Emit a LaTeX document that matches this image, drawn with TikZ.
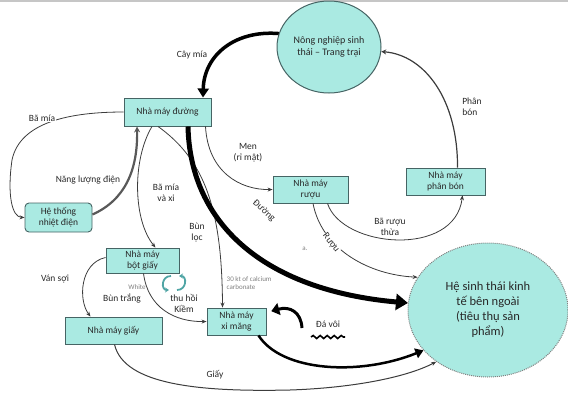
\documentclass[tikz,border=0pt]{standalone}
\usepackage{fontspec}
\setmainfont{Carlito}
\usetikzlibrary{shapes.geometric,arrows.meta,calc,decorations.pathmorphing}
\definecolor{boxfill}{RGB}{170,234,226}
\definecolor{boxline}{RGB}{70,100,100}
\definecolor{txt}{RGB}{40,40,40}
\definecolor{ln}{RGB}{60,60,60}
\definecolor{icon}{RGB}{80,165,165}
\begin{document}
\begin{tikzpicture}[x=1pt,y=-1pt,
  box/.style={draw=boxline, line width=0.9pt, fill=boxfill, inner sep=1pt, align=center,
    font=\fontsize{9.5}{11}\selectfont, text=txt},
  lbl/.style={font=\fontsize{9.5}{11}\selectfont, text=txt, align=center, inner sep=1pt},
  small/.style={font=\fontsize{7}{8}\selectfont, text=gray, align=left, inner sep=0.5pt},
  conn/.style={draw=ln, line width=0.8pt, -{Stealth[length=5pt,width=4pt]}},
  bold/.style={draw=black, line width=2.5pt, -{Triangle[length=8pt,width=10pt]}},
  heavy/.style={draw=black, line width=5pt, -{Triangle[length=12pt,width=16pt]}}]
\useasboundingbox (0,0) rectangle (568,400);
\draw[gray!45, line width=1.5pt] (0,1) -- (568,1);

% nodes
\node[ellipse, draw=boxline, line width=1pt, fill=boxfill, minimum width=104pt, minimum height=92pt,
  inner sep=0pt, align=center, font=\fontsize{10}{12}\selectfont, text=txt] (farm) at (329,47)
  {Nông nghiệp sinh\\thái – Trang trại};
\node[box, minimum width=87pt, minimum height=28pt] (duong) at (167.5,112) {Nhà máy đường};
\node[box, rounded corners=4pt, minimum width=67pt, minimum height=29pt] (nhiet) at (58.5,217.5) {Hệ thống\\nhiệt điện};
\node[box, minimum width=73pt, minimum height=25pt] (botgiay) at (142.5,260.5) {Nhà máy\\bột giấy};
\node[box, minimum width=97pt, minimum height=27pt] (giay) at (113.5,330.5) {Nhà máy giấy};
\node[box, minimum width=59pt, minimum height=27pt] (ximang) at (236.5,321.5) {Nhà máy\\xi măng};
\node[box, minimum width=75pt, minimum height=27pt] (ruou) at (310.5,189.5) {Nhà máy\\rượu};
\node[box, line width=0.6pt, minimum width=79pt, minimum height=27pt] (phanbon) at (445.5,181.5) {Nhà máy\\phân bón};
\node[ellipse, draw=gray, densely dotted, line width=1pt, fill=boxfill, minimum width=160pt, minimum height=134pt,
  inner sep=0pt, align=center, font=\fontsize{12.5}{15}\selectfont, text=txt] (hst) at (488,310)
  {Hệ sinh thái kinh\\tế bên ngoài\\(tiêu thụ sản\\phẩm)};

% connectors
\draw[heavy, line width=3.5pt, -{Triangle[length=9pt,width=11pt]}] (farm.165) .. controls (235,30) and (204,55) .. ([xshift=35.5pt]duong.north);
\node[lbl] (lcay) at (192,55) {Cây mía};

\draw[conn, line width=1.2pt, -{Stealth[length=5pt,width=5pt]}] ([xshift=12pt]phanbon.north) .. controls (458,100) and (425,55) .. (farm.-5);
\node[lbl, align=left] (lphan) at (472,107) {Phân\\bón};

\draw[conn] (duong.west) .. controls (70,112) and (20,122) .. (12,160) .. controls (7,195) and (12,217) .. (nhiet.west);
\node[lbl, fill=white] (lbamia) at (42,118) {Bã mía};

\draw[draw=gray!70!black, line width=2.2pt, -{Stealth[length=6pt,width=6pt]}] ([yshift=3pt]nhiet.east) .. controls (125,200) and (138,170) .. ([xshift=-30.5pt]duong.south);
\node[lbl] (lnang) at (88,180) {Năng lượng điện};

\draw[conn] ([xshift=-15.5pt]duong.south) .. controls (132,160) and (133,220) .. ([xshift=13pt]botgiay.north);
\node[lbl] (lbxi) at (166,193) {Bã mía\\và xi};

\draw[conn] ([xshift=-9.5pt]duong.south) .. controls (205,160) and (222,210) .. ([xshift=-14pt]ximang.north);
\node[lbl] (lbun) at (197,233) {Bùn\\lọc};
\node[small, anchor=west] (lcal) at (226,283) {30 kt of calcium\\carbonate};

\draw[heavy] ([xshift=20.5pt]duong.south) .. controls (190,222) and (262,290) .. (hst.175);
\node[lbl, rotate=-42] (lduong) at (264,211) {Đường};
\node[small] (la) at (305,249) {a.};

\draw[conn] ([xshift=38pt]duong.south) .. controls (208,172) and (240,190) .. (ruou.west);
\node[lbl] (lmen) at (248,153) {Men\\(rỉ mật)};

\draw[conn] ([xshift=2.5pt]ruou.south) .. controls (322,250) and (370,275) .. (hst.155);
\node[lbl, rotate=-52, fill=white, inner sep=0.5pt] (lruou) at (331,243) {Rượu};

\draw[conn] ([xshift=17pt]ruou.south) .. controls (342,248) and (455,258) .. ([xshift=17pt]phanbon.south);
\node[lbl] (lbaruou) at (390,227) {Bã rượu\\thừa};

\draw[conn] ([yshift=3pt]botgiay.west) .. controls (80,263) and (78,300) .. ([xshift=-23pt]giay.north);
\node[lbl] (lvan) at (55,279) {Ván sợi};

\draw[conn] ([xshift=1pt]botgiay.south) .. controls (148,308) and (175,322) .. (ximang.west);
\node[small] (lwhite) at (137,287) {White};
\node[lbl] (lbuntrang) at (122,299) {Bùn trắng};
\node[lbl] (lthuhoi) at (184,303) {thu hồi\\Kiềm};
\draw[icon, line width=1.8pt, -{Stealth[length=4pt,width=5pt]}] (171,276) .. controls (161,276) and (161,290) .. (169,290);
\draw[icon, line width=1.8pt, -{Stealth[length=4pt,width=5pt]}] (177,290) .. controls (187,290) and (187,276) .. (179,276);

\draw[conn, line width=1pt] ([xshift=1pt]giay.south) .. controls (124,385) and (200,392) .. (290,390) .. controls (350,388) and (405,378) .. (hst.225);
\node[lbl] (lgiay) at (215,375) {Giấy};

\draw[bold] ([xshift=22pt]ximang.south) .. controls (282,372) and (360,376) .. (hst.212);

\coordinate (davoi) at (302,328);
\draw[bold, line width=3pt, -{Triangle[length=8pt,width=12pt]}, shorten >=5pt] (davoi) .. controls (301,312) and (290,306) .. ([yshift=9pt]ximang.east);
\node[lbl] (lda) at (328,324) {Đá vôi};
\draw[line width=1.6pt, decorate, decoration={snake, amplitude=1.5pt, segment length=7pt}] (311,337) -- (345,337);
\end{tikzpicture}
\end{document}
